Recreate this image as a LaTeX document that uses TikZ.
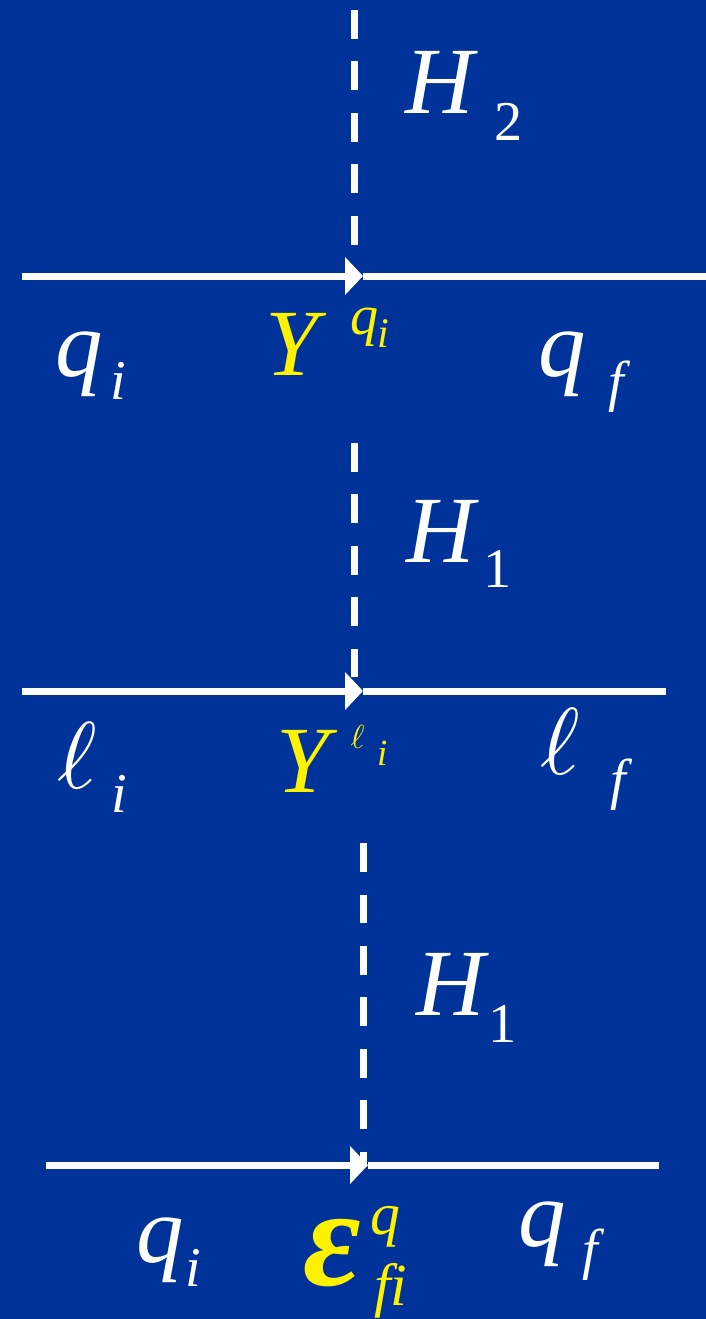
\documentclass[tikz,border=0pt]{standalone}
\usepackage{graphicx}
\usepackage{fontspec}
\setmainfont{Liberation Serif}
\usetikzlibrary{arrows.meta}

\definecolor{slideblue}{RGB}{0,51,153}
\newlength\px
\setlength\px{0.02cm}
\newcommand\bigsz{\fontsize{54}{60}\selectfont}
\newcommand\subsz{\fontsize{32}{36}\selectfont}
\newcommand\putat[3]{\makebox[0pt][l]{\hspace{#1\px}\raisebox{#2\px}{#3}}}
\newcommand\ellsym[1]{\scalebox{#1}{\fontsize{10}{12}\selectfont$\ell$}}

\begin{document}
\begin{tikzpicture}[
    x=0.02cm, y=-0.02cm,
    prop/.style={white, line width=0.14cm},
    flow/.style={prop, -{Triangle[length=0.36cm, width=0.74cm]}},
    boson/.style={white, line width=0.14cm, dash pattern=on 0.58cm off 0.45cm},
    lbl/.style={anchor=base west, inner sep=0pt, text=white, font=\bigsz\itshape}
]
\fill[slideblue] (0,0) rectangle (706,1319);
\useasboundingbox (0,0) rectangle (706,1319);

%---------------- top vertex: H_2 ----------------
\coordinate (d1a) at (354,10);
\coordinate (d1b) at (354,245);
\draw[boson] (d1a) -- (d1b);
\node[lbl] (H2) at (404,113) {\putat{0}{0}{H}\putat{89}{-27}{\subsz\upshape 2}};

\coordinate (a1) at (22,276);
\coordinate (m1) at (363,276);
\coordinate (b1) at (706,276);
\draw[flow] (a1) -- (m1);
\draw[prop] (m1) -- (b1);

\node[lbl] (qi1) at (54.6,376) {\putat{0}{0}{q}\putat{54.7}{-23.4}{\subsz i}};
\node[lbl, text=yellow] (Yq) at (264.5,375) {\putat{0}{0}{Y}\putat{85}{41}{\subsz q}\putat{111.5}{27.5}{\fontsize{24}{26}\selectfont i}};
\node[lbl] (qf1) at (537.6,376) {\putat{0}{0}{q}\putat{69.7}{-24.3}{\subsz f}};

%---------------- middle vertex: H_1, lepton ----------------
\coordinate (d2a) at (354,443);
\coordinate (d2b) at (354,677);
\draw[boson] (d2a) -- (d2b);
\node[lbl] (H1a) at (405,562) {\putat{0}{0}{H}\putat{77}{-25}{\subsz\upshape 1}};

\coordinate (a2) at (22,691);
\coordinate (m2) at (363,691);
\coordinate (b2) at (666,691);
\draw[flow] (a2) -- (m2);
\draw[prop] (m2) -- (b2);

\node[lbl] (li) at (56,788) {\putat{0}{0}{\ellsym{5.4}}\putat{54}{-24.5}{\subsz i}};
\node[lbl, text=yellow] (Yl) at (275.5,792) {\putat{0}{0}{Y}\putat{74}{44}{\ellsym{1.9}}\putat{100.5}{27}{\fontsize{21}{24}\selectfont i}};
\node[lbl] (lf) at (539,774) {\putat{0}{0}{\ellsym{5.4}}\putat{70}{-24}{\subsz f}};

%---------------- bottom vertex: H_1, quark ----------------
\coordinate (d3a) at (363,843);
\coordinate (d3b) at (363,1167);
\draw[boson] (d3a) -- (d3b);
\node[lbl] (H1b) at (415,1015) {\putat{0}{0}{H}\putat{72}{-27}{\subsz\upshape 1}};

\coordinate (a3) at (46,1165);
\coordinate (m3) at (368,1165);
\coordinate (b3) at (659,1165);
\draw[flow] (a3) -- (m3);
\draw[prop] (m3) -- (b3);

\node[lbl] (qi3) at (135.6,1262) {\putat{0}{0}{q}\putat{48.7}{-24.4}{\subsz i}};
\node[lbl, text=yellow] (Eq) at (302,1285) {\putat{0}{0}{\fontsize{80}{84}\selectfont\bfseries ε}\putat{67.5}{51}{\fontsize{34}{36}\selectfont q}\putat{71}{-20}{\fontsize{34}{36}\selectfont f\kern0pt i}};
\node[lbl] (qf3) at (517.6,1246) {\putat{0}{0}{q}\putat{63.4}{-22.6}{\subsz f}};

\end{tikzpicture}
\end{document}
